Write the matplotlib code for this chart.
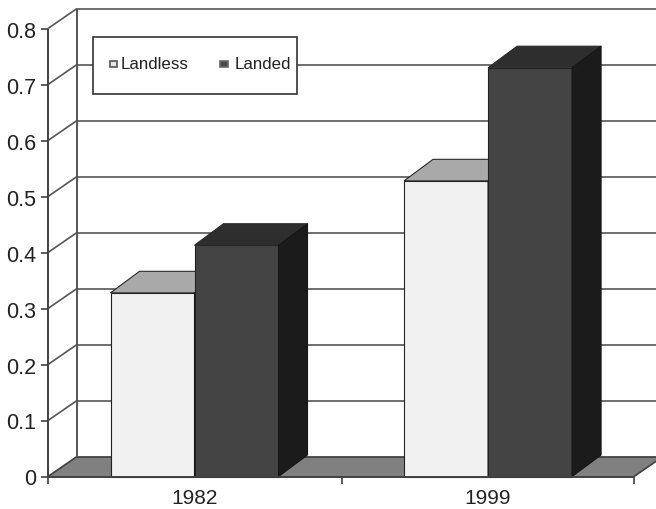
import matplotlib
matplotlib.use("Agg")
import matplotlib.pyplot as plt
from matplotlib.patches import Polygon, Rectangle
from matplotlib.transforms import Affine2D

years = ["1982", "1999"]
landless = [0.328, 0.528]
landed = [0.413, 0.73]
y_ticks = [0, 0.1, 0.2, 0.3, 0.4, 0.5, 0.6, 0.7, 0.8]
y_tick_labels = ["0", "0.1", "0.2", "0.3", "0.4", "0.5", "0.6", "0.7", "0.8"]

W, H = 656, 510
LINE = "#404040"
GRID = "#555555"

plt.rcParams["font.family"] = ["Liberation Sans", "DejaVu Sans"]

fig = plt.figure(figsize=(W / 100, H / 100), dpi=100)
ax = fig.add_axes([48 / W, (H - 477.5) / H, 586 / W, 448 / H])
ax.set_xlim(0, 2)
ax.set_ylim(0, 0.8)
for s in ax.spines.values():
    s.set_visible(False)
ax.patch.set_visible(False)

# depth of the fake 3d box, in data units
dx = 29 / 293.0
dy = 20 / 560.0
bar_dy = 21.5 / 560.0
bar_w = 84 / 293.0


def poly(points, color, z, edge="none"):
    ax.add_patch(Polygon(points, closed=True, facecolor=color, edgecolor=edge,
                         linewidth=0.8, zorder=z, clip_on=False))


def line(xs, ys, z=2, lw=1.2, color=LINE):
    ax.plot(xs, ys, color=color, lw=lw, zorder=z, clip_on=False,
            solid_capstyle="butt")


# floor
poly([(0, 0), (2, 0), (2 + dx, dy), (dx, dy)], "#808080", 1)
line([dx, 2 + dx], [dy, dy], z=2)

# back wall gridlines plus the slanted bit on the side wall
for v in y_ticks[1:]:
    line([dx, 2 + dx], [v + dy, v + dy], color=GRID)
    line([0, dx], [v, v + dy], color=GRID)
line([0, dx], [0, dy])
line([dx, dx], [dy, 0.8 + dy], lw=1.4, color=GRID)
line([0, 0], [0, 0.8], z=6, lw=1.4)
line([0, 2], [0, 0], z=6, lw=1.4)
line([2, 2 + dx], [0, dy], z=2)


def draw_bar(x0, val, front, top, side):
    x1 = x0 + bar_w
    poly([(x0, 0), (x1, 0), (x1, val), (x0, val)], front, 4, edge="#222222")
    poly([(x0, val), (x1, val), (x1 + dx, val + bar_dy), (x0 + dx, val + bar_dy)], top, 4, edge="#2a2a2a")
    poly([(x1, 0), (x1 + dx, bar_dy), (x1 + dx, val + bar_dy), (x1, val)], side, 4, edge="#161616")


for i in range(len(years)):
    center = i + 0.5 + 0.002 * i
    draw_bar(center - bar_w, landless[i], "#f1f1f1", "#a9a9a9", "#6a6a6a")
    draw_bar(center, landed[i], "#444444", "#2e2e2e", "#1b1b1b")

ax.set_yticks(y_ticks)
ax.set_yticklabels(y_tick_labels, fontsize=15.5, color="#222222")
ax.set_xticks([0, 1.004, 2])
ax.set_xticklabels([])
ax.set_xticks([0.5, 1.5], years, minor=True, fontsize=15, color="#222222")
ax.tick_params(axis="y", length=5, width=1.2, color=LINE, pad=3.5)
ax.tick_params(axis="x", which="major", length=5, width=1.2, color=LINE)
ax.tick_params(axis="x", which="minor", length=0, pad=8.5)

# legend box, placed in pixels from the top left corner
px = Affine2D().scale(1, -1).translate(0, H)
fig.add_artist(Rectangle((92.5, 37.5), 204, 57, transform=px, facecolor="white",
                         edgecolor="#333333", linewidth=1.2, zorder=10))
fig.add_artist(Rectangle((110, 62), 7, 6, transform=px, facecolor="#e8e8e8",
                         edgecolor="#555555", linewidth=1.2, zorder=11))
fig.add_artist(Rectangle((220, 62), 8, 6, transform=px, facecolor="#484848",
                         edgecolor="#666666", linewidth=1.2, zorder=11))
fig.text(121, 64.5, "Landless", transform=px, fontsize=12.2, va="center", color="#222222", zorder=11)
fig.text(235, 64.5, "Landed", transform=px, fontsize=12.2, va="center", color="#222222", zorder=11)

fig.savefig("out.png", dpi=100)
